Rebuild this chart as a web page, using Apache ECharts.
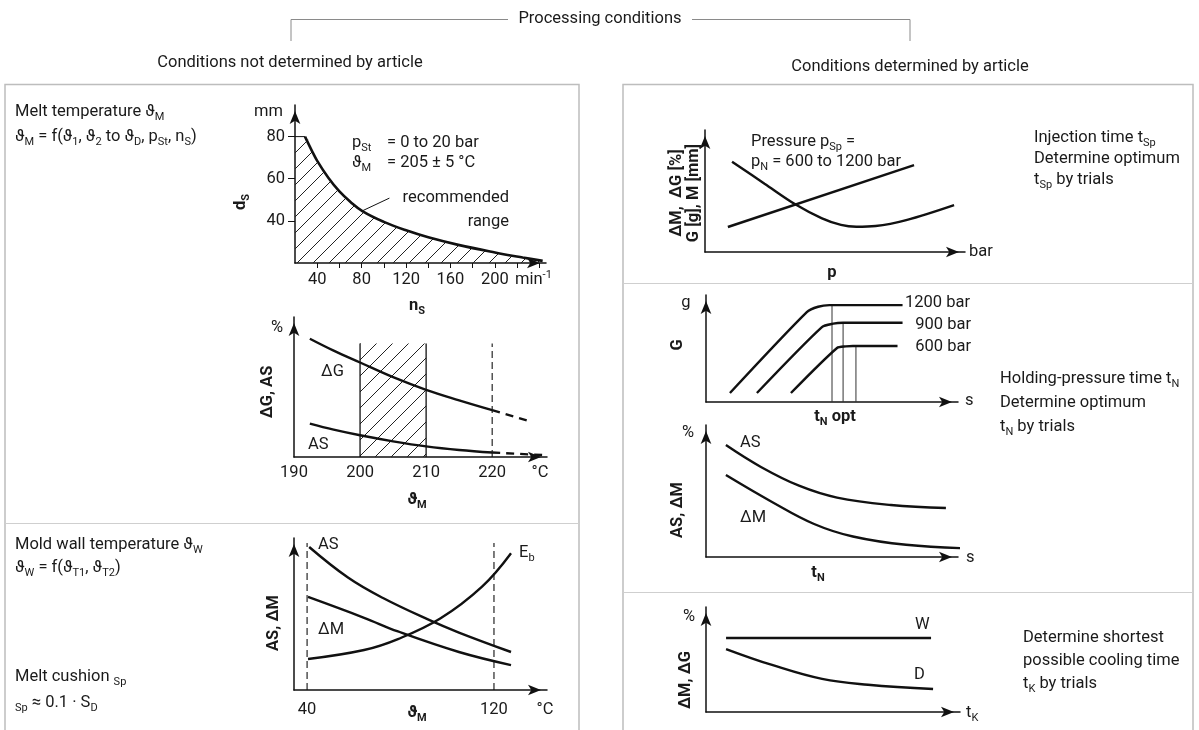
<!DOCTYPE html>
<html><head><meta charset="utf-8">
<script src="https://cdn.jsdelivr.net/npm/echarts@6.0.0/dist/echarts.min.js"></script>
<style>html,body{margin:0;padding:0;background:#fff}#chart{width:1199px;height:730px}</style>
</head><body><div id="chart"></div>
<script>
// ===================== DATA =====================
// Screw diameter d_S [mm] vs screw speed n_S [min^-1]
const dsSpeedLabels = [40, 80, 120, 160, 200];
const dsSpeedTicks = [40, 60, 80, 100, 120, 140, 160, 180, 200, 220, 240];
const dsDiamLabels = [40, 60, 80];
const dsCurve = [[29, 80], [35, 73.5], [40, 68.5], [50, 60.5], [60, 54], [70, 49], [81, 44.5], [100, 39.5], [120, 35.5], [140, 32.2], [167, 28.6], [200, 25], [225, 22.6], [243, 21]];
const dsCap = [[20, 80], [29, 80]];
const dsPointer = [[80, 44.6], [105, 50.8]];

// ΔG, AS [%] vs melt temperature ϑ_M [°C]
const meltTempLabels = [190, 200, 210, 220];
const meltDG = [[192.4, 84.5], [196, 76], [200, 67.5], [205, 57], [210, 48], [215, 40.5], [220, 33.5]];
const meltDGext = [[220, 33.5], [225.6, 25.7]];
const meltAS = [[192.4, 23.8], [196, 19.5], [200, 15.5], [205, 11.2], [210, 7.6], [215, 5.0], [220, 3.2]];
const meltASext = [[220, 3.2], [227.6, 1.4]];
const meltBand = [200, 210];
const meltBandTop = 81;
const meltLimit = 220;

// AS, ΔM, E_b vs mold wall temperature [°C]
const wallTempLabels = [40, 120];
const wallAS = [[40.9, 94.1], [57.5, 74], [72.5, 60.5], [92.2, 46.1], [105, 37.8], [127.3, 25]];
const wallDM = [[40.4, 61.2], [64.4, 47.5], [78.9, 38.5], [105, 25], [127.3, 16.4]];
const wallEb = [[40.4, 20.4], [64.4, 26.3], [78.9, 33.5], [97, 47], [114.9, 68], [127.3, 90]];
const wallLimits = [40, 120];
const wallLimitTop = 96.7;

// ΔM, ΔG / G, M vs pressure p
const pressRise = [[8.8, 20.5], [80.4, 71.3]];
const pressU = [[10.4, 74], [22.9, 56], [34.7, 39.1], [45, 27.6], [52.3, 22.2], [58.2, 20.7], [65.6, 21.3], [77.4, 26.2], [95.8, 38.5]];

// G vs holding-pressure time (1200 / 900 / 600 bar)
const hold1200 = [[9.5, 8.4], [40, 84], [44.5, 89], [49, 90.5], [78, 90.5]];
const hold900 = [[20.2, 8.4], [46, 70], [50.5, 73.2], [54.4, 74], [78, 74]];
const hold600 = [[33.7, 8.4], [52, 50.5], [55.5, 52], [58.3, 52.3], [76, 52.3]];
const holdOpt = [[50, 90.5], [54.4, 74], [59.5, 52.3]];

// AS, ΔM vs holding-pressure time t_N
const holdAS = [[7.9, 84.8], [21.8, 68.2], [36.9, 54], [52, 45], [73.4, 39.4], [95.2, 37.1]];
const holdDM = [[7.9, 62.1], [26.2, 41.7], [42.9, 25], [58.3, 15.5], [79.4, 9.3], [110.7, 6.1]];

// ΔM, ΔG vs cooling time t_K
const coolW = [[7.9, 70.5], [88.6, 70.5]];
const coolD = [[7.9, 60], [26, 44.8], [45.7, 31.5], [63.8, 26], [89.4, 21.9]];

// ===================== STYLE / LAYOUT =====================
const FONT = 'Roboto, "Noto Sans", "DejaVu Sans", sans-serif';
const FS = 16.5;
const INK = '#1a1a1a';
const LINE = '#111';

function hatch(size) {
  const c = document.createElement('canvas');
  c.width = size; c.height = size;
  const g = c.getContext('2d');
  g.strokeStyle = '#222'; g.lineWidth = 1;
  g.beginPath();
  g.moveTo(0, size); g.lineTo(size, 0);
  g.moveTo(-2, 2); g.lineTo(2, -2);
  g.moveTo(size - 2, size + 2); g.lineTo(size + 2, size - 2);
  g.stroke();
  return { image: c, repeat: 'repeat' };
}
const HATCH = hatch(16);

const grids = [
  { left: 295, top: 105, width: 251, height: 158 }, // 0 d_S
  { left: 294, top: 317, width: 253, height: 140 }, // 1 ΔG AS
  { left: 294, top: 538, width: 253, height: 152 }, // 2 mold wall
  { left: 705, top: 130, width: 260, height: 122 }, // 3 pressure
  { left: 706, top: 295, width: 252, height: 107 }, // 4 G
  { left: 706, top: 425, width: 252, height: 132 }, // 5 AS ΔM
  { left: 706, top: 607, width: 254, height: 105 }  // 6 cooling
].map(g => Object.assign({ outerBoundsMode: 'none', containLabel: false }, g));

const axLine = { show: true, onZero: false, lineStyle: { color: LINE, width: 1.5 }, symbol: ['none', 'arrow'], symbolSize: [8, 13], symbolOffset: [0, -6] };
const lbl = { color: INK, fontFamily: FONT, fontSize: FS };
function xAx(gi, min, max, extra) {
  return Object.assign({ type: 'value', gridIndex: gi, min, max, axisLine: axLine, axisTick: { show: false }, axisLabel: { show: false }, splitLine: { show: false } }, extra || {});
}
function yAx(gi, min, max, extra) {
  return Object.assign({ type: 'value', gridIndex: gi, min, max, axisLine: axLine, axisTick: { show: false }, axisLabel: { show: false }, splitLine: { show: false } }, extra || {});
}

const xAxis = [
  xAx(0, 20, 246, {
    axisTick: { show: true, customValues: dsSpeedTicks, length: 5, lineStyle: { color: LINE, width: 1 } },
    axisLabel: Object.assign({ show: true, customValues: dsSpeedLabels, margin: 8 }, lbl)
  }),
  xAx(1, 190, 228.3, { axisLabel: Object.assign({ show: true, customValues: meltTempLabels, margin: 7 }, lbl) }),
  xAx(2, 34.4, 142.7, { axisLabel: Object.assign({ show: true, customValues: wallTempLabels, margin: 11 }, lbl) }),
  xAx(3, 0, 100), xAx(4, 0, 100), xAx(5, 0, 100), xAx(6, 0, 100)
];
const yAxis = [
  yAx(0, 20, 95, {
    axisTick: { show: true, customValues: dsDiamLabels, length: 7, lineStyle: { color: LINE, width: 1 } },
    axisLabel: Object.assign({ show: true, customValues: dsDiamLabels, margin: 10 }, lbl)
  }),
  yAx(1, 0, 100), yAx(2, 0, 100), yAx(3, 0, 100), yAx(4, 0, 100), yAx(5, 0, 100), yAx(6, 0, 100)
];

const series = [];
function addLine(gi, data, o) {
  o = o || {};
  const s = {
    type: 'line', xAxisIndex: gi, yAxisIndex: gi, data, symbol: 'none', silent: true, clip: false,
    smooth: o.smooth === undefined ? 0.4 : o.smooth,
    lineStyle: { color: o.color || LINE, width: o.width === undefined ? 2.4 : o.width, type: o.type || 'solid' },
    z: o.z || 3, animation: false
  };
  if (o.area) s.areaStyle = { color: o.area, origin: 'start', opacity: 1 };
  series.push(s);
}
function vLine(gi, x, top, o) { addLine(gi, [[x, 0], [x, top]], Object.assign({ smooth: false }, o)); }

// plot 0: d_S
addLine(0, dsCap.concat(dsCurve.slice(1)), { area: HATCH, width: 0, z: 1 });
addLine(0, dsCurve, { width: 2.6 });
addLine(0, dsCap, { smooth: false, width: 1 });
addLine(0, dsPointer, { smooth: false, width: 1 });
// plot 1: melt temperature
addLine(1, meltBand.map(x => [x, meltBandTop]), { area: HATCH, width: 0, smooth: false, z: 1 });
meltBand.forEach(x => vLine(1, x, meltBandTop, { width: 1.3 }));
vLine(1, meltLimit, meltBandTop, { width: 1.1, type: [7, 4] });
addLine(1, meltDG);
addLine(1, meltDGext, { type: [8, 6], smooth: false });
addLine(1, meltAS);
addLine(1, meltASext, { type: [8, 6], smooth: false });
// plot 2: mold wall temperature
wallLimits.forEach(x => vLine(2, x, wallLimitTop, { width: 1.1, type: [7, 4] }));
addLine(2, wallAS);
addLine(2, wallDM);
addLine(2, wallEb);
// plot 3: pressure
addLine(3, pressRise, { smooth: false });
addLine(3, pressU, { smooth: 0.35 });
// plot 4: holding pressure G
holdOpt.forEach(p => vLine(4, p[0], p[1], { width: 1, color: '#333' }));
addLine(4, hold1200, { smooth: 0.25 });
addLine(4, hold900, { smooth: 0.25 });
addLine(4, hold600, { smooth: 0.25 });
// plot 5: AS, ΔM vs t_N
addLine(5, holdAS);
addLine(5, holdDM);
// plot 6: cooling
addLine(6, coolW, { smooth: false });
addLine(6, coolD);

// ===================== TEXT / FRAME =====================
function richSet(bold) {
  const w = bold ? 'bold' : 'normal';
  return {
    s: { fontSize: 11, lineHeight: 12, verticalAlign: 'bottom', fontFamily: FONT, fontWeight: w, fill: INK },
    u: { fontSize: 11, lineHeight: 12, verticalAlign: 'top', fontFamily: FONT, fontWeight: w, fill: INK }
  };
}
function T(x, y, text, o) {
  o = o || {};
  return {
    type: 'text', x, y, rotation: o.rot || 0, silent: true, z: 10,
    style: {
      text, fill: INK, fontFamily: FONT, fontSize: o.size || FS, fontWeight: o.bold ? 'bold' : 'normal',
      lineHeight: 21, align: o.align || 'left', verticalAlign: 'middle', rich: richSet(o.bold)
    }
  };
}
function L(points, color, w) {
  return { type: 'polyline', silent: true, z: 0, shape: { points }, style: { stroke: color, lineWidth: w || 1, fill: null } };
}
const R = Math.PI / 2;
const elements = [
  // header
  T(600, 19, 'Processing conditions', { align: 'center' }),
  L([[291, 41], [291, 19.5], [508, 19.5]], '#8a8a8a', 1),
  L([[692, 19.5], [910, 19.5], [910, 41]], '#8a8a8a', 1),
  T(290, 63, 'Conditions not determined by article', { align: 'center' }),
  T(910, 67, 'Conditions determined by article', { align: 'center' }),
  // boxes
  { type: 'rect', silent: true, z: 0, shape: { x: 5, y: 84.5, width: 574, height: 700 }, style: { stroke: '#bdbdbd', lineWidth: 1.5, fill: null } },
  { type: 'rect', silent: true, z: 0, shape: { x: 623, y: 84.5, width: 570, height: 700 }, style: { stroke: '#bdbdbd', lineWidth: 1.5, fill: null } },
  L([[5, 523.5], [579, 523.5]], '#cfcfcf', 1),
  L([[623, 283.5], [1193, 283.5]], '#cfcfcf', 1),
  L([[623, 592.5], [1193, 592.5]], '#cfcfcf', 1),

  // left upper texts
  T(15, 112, 'Melt temperature ϑ{s|M}'),
  T(15, 137, 'ϑ{s|M} = f(ϑ{s|1}, ϑ{s|2} to ϑ{s|D}, p{s|St}, n{s|S})'),
  T(283, 112, 'mm', { align: 'right' }),
  T(352, 143, 'p{s|St}'), T(387, 143, '= 0 to 20 bar'),
  T(352, 163, 'ϑ{s|M}'), T(387, 163, '= 205 ± 5 °C'),
  T(509, 198, 'recommended', { align: 'right' }),
  T(509, 222, 'range', { align: 'right' }),
  T(241, 202, 'd{s|S}', { bold: true, rot: R, align: 'center' }),
  T(417, 306, 'n{s|S}', { bold: true, align: 'center' }),
  T(515, 280, 'min{u|-1}'),
  // plot 1
  T(277, 328, '%', { align: 'center' }),
  T(321, 372, 'ΔG'),
  T(308, 445, 'AS'),
  T(540, 473, '°C', { align: 'center' }),
  T(417, 500, 'ϑ{s|M}', { bold: true, align: 'center' }),
  T(268, 392, 'ΔG, AS', { bold: true, rot: R, align: 'center' }),
  // left lower texts
  T(15, 545, 'Mold wall temperature ϑ{s|W}'),
  T(15, 568, 'ϑ{s|W} = f(ϑ{s|T1}, ϑ{s|T2})'),
  T(15, 677, 'Melt cushion {s|Sp}'),
  T(15, 703, '{s|Sp} ≈ 0.1 · S{s|D}'),
  T(318, 545, 'AS'),
  T(519, 553, 'E{s|b}'),
  T(318, 630, 'ΔM'),
  T(545, 710, '°C', { align: 'center' }),
  T(417, 713, 'ϑ{s|M}', { bold: true, align: 'center' }),
  T(274, 623, 'AS, ΔM', { bold: true, rot: R, align: 'center' }),

  // right: pressure
  T(751, 142, 'Pressure p{s|Sp} ='),
  T(751, 162, 'p{s|N} = 600 to 1200 bar'),
  T(969, 252, 'bar'),
  T(832, 273, 'p', { bold: true, align: 'center' }),
  T(677, 193, 'ΔM,  ΔG [%]', { bold: true, rot: R, align: 'center' }),
  T(694, 193, 'G [g], M [mm]', { bold: true, rot: R, align: 'center' }),
  T(1034, 138, 'Injection time t{s|Sp}'),
  T(1034, 159, 'Determine optimum'),
  T(1034, 180, 't{s|Sp} by trials'),
  // right: holding pressure G
  T(686, 303, 'g', { align: 'center' }),
  T(678, 345, 'G', { bold: true, rot: R, align: 'center' }),
  T(905, 303, '1200 bar'),
  T(971, 325, '900 bar', { align: 'right' }),
  T(971, 347, '600 bar', { align: 'right' }),
  T(965, 401, 's'),
  T(835, 417, 't{s|N} opt', { bold: true, align: 'center' }),
  T(1000, 379, 'Holding-pressure time t{s|N}'),
  T(1000, 403, 'Determine optimum'),
  T(1000, 427, 't{s|N} by trials'),
  // right: AS ΔM vs t_N
  T(688, 433, '%', { align: 'center' }),
  T(740, 443, 'AS'),
  T(740, 518, 'ΔM'),
  T(966, 558, 's'),
  T(818, 573, 't{s|N}', { bold: true, align: 'center' }),
  T(678, 510, 'AS, ΔM', { bold: true, rot: R, align: 'center' }),
  // right: cooling
  T(689, 617, '%', { align: 'center' }),
  T(915, 625, 'W'),
  T(914, 675, 'D'),
  T(966, 713, 't{s|K}'),
  T(686, 680, 'ΔM, ΔG', { bold: true, rot: R, align: 'center' }),
  T(1023, 638, 'Determine shortest'),
  T(1023, 661, 'possible cooling time'),
  T(1023, 684, 't{s|K} by trials')
];

const chart = echarts.init(document.getElementById('chart'), null, { renderer: 'canvas' });
chart.setOption({
  animation: false,
  backgroundColor: '#fff',
  textStyle: { fontFamily: FONT },
  grid: grids, xAxis, yAxis, series,
  graphic: { elements }
});
</script></body></html>
